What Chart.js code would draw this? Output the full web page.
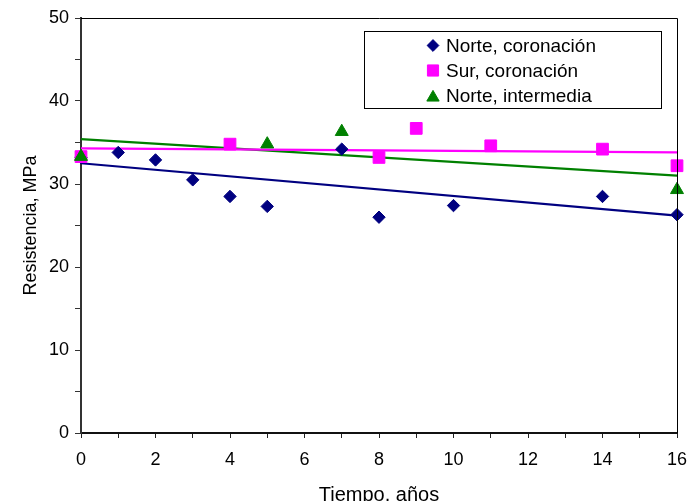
<!DOCTYPE html>
<html>
<head>
<meta charset="utf-8">
<script src="https://cdn.jsdelivr.net/npm/chart.js@4.4.1/dist/chart.umd.min.js"></script>
<style>
  html, body { margin: 0; padding: 0; background: #fff; }
  #wrap { width: 695px; height: 501px; }
</style>
</head>
<body>
<div id="wrap"><canvas id="c" width="695" height="501"></canvas></div>
<script>
// ---- data ----
const seriesLabels = ['Norte, coronación', 'Sur, coronación', 'Norte, intermedia'];

const norteCoronX = [0, 1, 2, 3, 4, 5, 7, 8, 10, 14, 16];
const norteCoronY = [33.2, 33.8, 32.9, 30.5, 28.5, 27.3, 34.2, 26.0, 27.4, 28.5, 26.3];

const surCoronX = [0, 4, 8, 9, 11, 14, 16];
const surCoronY = [33.3, 34.8, 33.2, 36.7, 34.6, 34.2, 32.2];

const norteInterX = [0, 5, 7, 16];
const norteInterY = [33.3, 34.8, 36.3, 29.3];

// linear trend lines (end points)
const trendX = [0, 16];
const trendNorteCoron = [32.5, 26.2];
const trendSurCoron = [34.3, 33.8];
const trendNorteInter = [35.4, 31.0];

const xTitle = 'Tiempo, años';
const yTitle = 'Resistencia, MPa';

// ---- helpers ----
function pts(xs, ys) { return xs.map((x, i) => ({ x: x, y: ys[i] })); }

const NAVY = '#000080', MAGENTA = '#FF00FF', GREEN = '#008000';
const FONT = '"Liberation Sans", Arial, sans-serif';

const markerDefs = [
  { color: NAVY, style: 'rectRot', radius: 6.2 },
  { color: MAGENTA, style: 'rect', radius: 8.3 },
  { color: GREEN, style: 'triangle', radius: 7.5 }
];

const frameAndLegend = {
  id: 'frameAndLegend',
  afterDatasetsDraw(chart) {
    const ctx = chart.ctx;
    const a = chart.chartArea;
    ctx.save();
    // top & right frame
    ctx.strokeStyle = '#000';
    ctx.lineWidth = 1;
    ctx.beginPath();
    ctx.moveTo(a.left, a.top + 0.5);
    ctx.lineTo(a.right + 0.5, a.top + 0.5);
    ctx.lineTo(a.right + 0.5, a.bottom);
    ctx.stroke();

    // legend box
    const bx = 364, by = 31, bw = 297, bh = 77;
    ctx.fillStyle = '#fff';
    ctx.fillRect(bx, by, bw, bh);
    ctx.strokeStyle = '#000';
    ctx.strokeRect(bx + 0.5, by + 0.5, bw, bh);
    const rows = [45.5, 70.5, 95.5];
    ctx.font = '19px ' + FONT;
    ctx.textBaseline = 'middle';
    ctx.textAlign = 'left';
    seriesLabels.forEach((lab, i) => {
      const m = markerDefs[i];
      ctx.fillStyle = m.color;
      ctx.strokeStyle = m.color;
      ctx.lineWidth = 1;
      Chart.helpers.drawPoint(ctx, { pointStyle: m.style, radius: m.radius * 0.95, borderWidth: 1, rotation: 0 }, 433, rows[i] + (m.style === 'triangle' ? 2 : 0));
      ctx.fillStyle = '#000';
      ctx.fillText(lab, 446, rows[i] + 1);
    });
    ctx.restore();
  }
};

const scatterDs = (label, xs, ys, i) => ({
  label: label,
  type: 'scatter',
  data: pts(xs, ys),
  pointStyle: markerDefs[i].style,
  pointRadius: markerDefs[i].radius,
  pointHoverRadius: markerDefs[i].radius,
  backgroundColor: markerDefs[i].color,
  borderColor: markerDefs[i].color,
  borderWidth: 1,
  showLine: false,
  clip: false,
  order: 3 - i
});

const trendDs = (xs, ys, color) => ({
  label: 'trend',
  type: 'line',
  data: pts(xs, ys),
  borderColor: color,
  borderWidth: 2.2,
  pointRadius: 0,
  fill: false,
  tension: 0,
  clip: false,
  order: 10
});

new Chart(document.getElementById('c'), {
  type: 'scatter',
  data: {
    datasets: [
      trendDs(trendX, trendNorteCoron, NAVY),
      trendDs(trendX, trendSurCoron, MAGENTA),
      trendDs(trendX, trendNorteInter, GREEN),
      scatterDs(seriesLabels[0], norteCoronX, norteCoronY, 0),
      scatterDs(seriesLabels[1], surCoronX, surCoronY, 1),
      scatterDs(seriesLabels[2], norteInterX, norteInterY, 2)
    ]
  },
  options: {
    responsive: false,
    devicePixelRatio: 1,
    animation: false,
    layout: { padding: { top: 18, right: 18, left: 0, bottom: 0 } },
    plugins: { legend: { display: false }, tooltip: { enabled: false } },
    scales: {
      x: {
        type: 'linear',
        min: 0, max: 16,
        afterFit(s) { s.height = 68; s.paddingLeft = 0; s.paddingRight = 0; },
        ticks: {
          stepSize: 1,
          autoSkip: false,
          maxRotation: 0,
          padding: 11,
          color: '#000',
          font: { family: FONT, size: 18 },
          callback: v => (v % 2 === 0 ? String(v) : '')
        },
        grid: { drawOnChartArea: false, drawTicks: true, tickLength: 5, color: '#222', tickWidth: 1 },
        border: { display: true, color: '#111', width: 2 },
        title: {
          display: true, text: xTitle, color: '#000',
          font: { family: FONT, size: 20, lineHeight: 0.6 },
          padding: { top: 0, bottom: 0 }
        }
      },
      y: {
        type: 'linear',
        min: 0, max: 50,
        afterFit(s) { s.width = 81; s.paddingTop = 0; s.paddingBottom = 0; },
        ticks: {
          stepSize: 5,
          autoSkip: false,
          padding: 6,
          color: '#000',
          font: { family: FONT, size: 18 },
          callback: v => (v % 10 === 0 ? String(v) : '')
        },
        grid: { drawOnChartArea: false, drawTicks: true, tickLength: 6, color: '#333', tickWidth: 1 },
        border: { display: true, color: '#333', width: 2 },
        title: {
          display: true, text: yTitle, color: '#000',
          font: { family: FONT, size: 18, lineHeight: 1.2 },
          padding: { top: 20, bottom: 0 }
        }
      }
    }
  },
  plugins: [frameAndLegend]
});
</script>
</body>
</html>
